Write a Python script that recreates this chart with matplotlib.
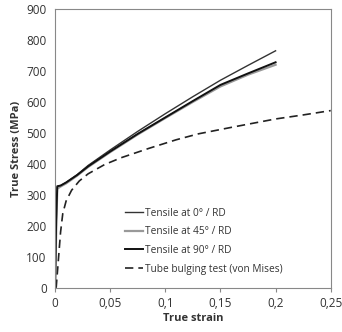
import matplotlib.pyplot as plt
from matplotlib.ticker import FuncFormatter

plt.rcParams['font.family'] = ['Open Sans', 'DejaVu Sans']

# Values
strain_0 = [0, 0.001, 0.002, 0.005, 0.01, 0.02, 0.03, 0.05, 0.075, 0.1, 0.125, 0.15, 0.175, 0.2]
stress_0 = [0, 200, 325, 330, 340, 365, 395, 445, 505, 562, 617, 670, 718, 765]

strain_45 = [0, 0.001, 0.002, 0.005, 0.01, 0.02, 0.03, 0.05, 0.075, 0.1, 0.125, 0.15, 0.175, 0.2]
stress_45 = [0, 180, 320, 327, 337, 362, 390, 438, 495, 548, 600, 650, 688, 720]

strain_90 = [0, 0.001, 0.002, 0.005, 0.01, 0.02, 0.03, 0.05, 0.075, 0.1, 0.125, 0.15, 0.175, 0.2]
stress_90 = [0, 220, 328, 330, 340, 364, 392, 440, 497, 550, 603, 655, 692, 728]

strain_tb = [0.001, 0.003, 0.005, 0.007, 0.01, 0.015, 0.022, 0.03, 0.045, 0.06, 0.085, 0.11, 0.13, 0.16, 0.2, 0.225, 0.25]
stress_tb = [0, 90, 180, 240, 280, 315, 345, 368, 398, 420, 450, 478, 497, 518, 545, 558, 572]

labels = ['Tensile at 0° / RD', 'Tensile at 45° / RD', 'Tensile at 90° / RD',
          'Tube bulging test (von Mises)']

fig = plt.figure(figsize=(3.42, 3.32), dpi=100)
ax = fig.add_axes([0.161, 0.133, 0.806, 0.840])

ax.plot(strain_0, stress_0, color='#333333', lw=1.0, label=labels[0])
ax.plot(strain_45, stress_45, color='#999999', lw=1.6, label=labels[1])
ax.plot(strain_90, stress_90, color='#111111', lw=1.4, label=labels[2])
ax.plot(strain_tb, stress_tb, color='#222222', lw=1.2, ls=(0, (5, 3)), label=labels[3])

ax.set_xlim(0, 0.25)
ax.set_ylim(0, 900)
ax.set_xticks([0, 0.05, 0.1, 0.15, 0.2, 0.25])
ax.set_yticks(range(0, 901, 100))
ax.xaxis.set_major_formatter(FuncFormatter(lambda v, p: ('%g' % v).replace('.', ',')))

for s in ax.spines.values():
    s.set_color('#888888')
ax.tick_params(axis='x', direction='out', length=3, color='#888888', labelsize=8.5, labelcolor='#333333')
ax.tick_params(axis='y', length=0, labelsize=8.5, labelcolor='#333333', pad=6)

ax.set_xlabel('True strain', fontsize=8, fontweight='bold', color='#333333', labelpad=2)
ax.set_ylabel('True Stress (MPa)', fontsize=8, fontweight='bold', color='#333333', labelpad=3)

ax.legend(loc='lower left', bbox_to_anchor=(0.22, 0.015), frameon=False, fontsize=7.3,
          handlelength=1.8, handletextpad=0.2, labelspacing=0.75, labelcolor='#333333')

fig.savefig('out.png', dpi=100)
